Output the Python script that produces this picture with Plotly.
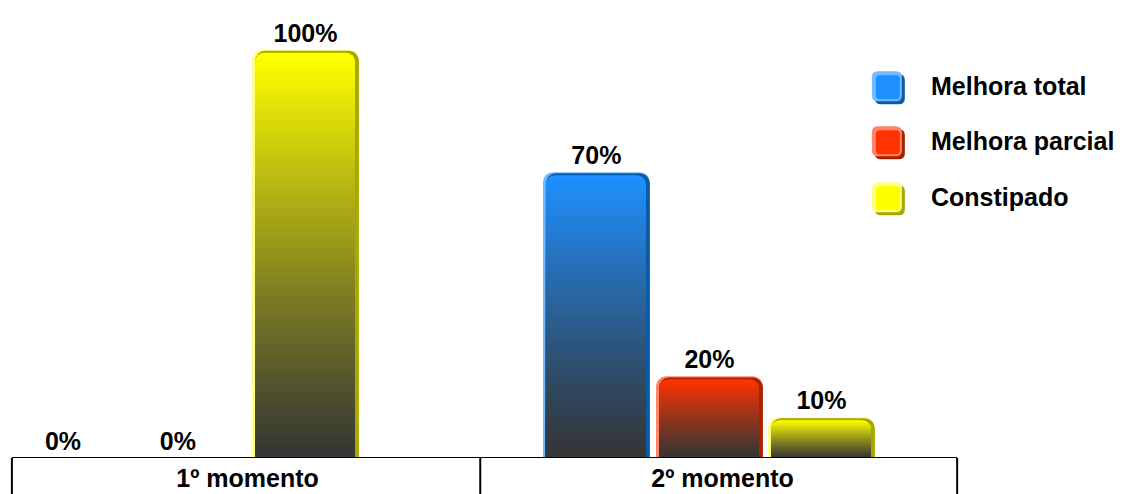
import plotly.graph_objects as go

# ---- data ----
categories = ["1º momento", "2º momento"]
series_names = ["Melhora total", "Melhora parcial", "Constipado"]
melhora_total = [0, 70]
melhora_parcial = [0, 20]
constipado = [100, 10]
series_values = [melhora_total, melhora_parcial, constipado]

# ---- styles ----
top_colors = ["#1E90FF", "#FF3300", "#FFFF00"]
light_colors = ["#72BAFF", "#FF8468", "#FFFF88"]
shadow_colors = ["#0B5CA8", "#A82200", "#A8A800"]
bottom_color = "#353535"
# left-edge offsets of each bar relative to its category centre (category units)
offsets = [[-0.501, -0.378], [-0.259, -0.140], [0.0095, 0.0958]]
BAR_W = 0.225
CAT_PX = 475.0
Y_MAX = 108
PLOT_H = 441.0
PX_PER_UNIT = PLOT_H / Y_MAX
N_STEPS = 60
FONT = "Liberation Sans"
FS = 25


def hex2rgb(h):
    h = h.lstrip("#")
    return tuple(int(h[i:i + 2], 16) for i in (0, 2, 4))


def mix(c1, c2, t):
    a, b = hex2rgb(c1), hex2rgb(c2)
    return "rgb(%d,%d,%d)" % tuple(round(a[i] + (b[i] - a[i]) * t) for i in range(3))


fig = go.Figure()
px = 1.0 / CAT_PX
d_top = 3.0 / PX_PER_UNIT

for si, (name, vals) in enumerate(zip(series_names, series_values)):
    offs = offsets[si]
    # highlight (light edge) bar carrying the value label
    fig.add_trace(go.Bar(
        x=categories, y=vals, name=name, showlegend=False,
        offset=offs, width=[BAR_W] * len(vals),
        marker=dict(color=light_colors[si], cornerradius=10, line=dict(width=0)),
        text=[f"{v}%" for v in vals], textposition="outside",
        textfont=dict(family=FONT, size=FS, color="black", weight="bold"),
        cliponaxis=False, hoverinfo="skip",
    ))
    # shadow (dark right edge)
    fig.add_trace(go.Bar(
        x=categories, y=[max(v - d_top * 0.4, 0) for v in vals], showlegend=False,
        offset=[o + 3 * px for o in offs], width=[BAR_W - 3 * px] * len(vals),
        marker=dict(color=shadow_colors[si], cornerradius=10, line=dict(width=0)),
        hoverinfo="skip",
    ))
    # gradient body
    for k in range(N_STEPS):
        f = 1 - k / N_STEPS
        hs = [max(v - d_top, 0) * f for v in vals]
        col = mix(bottom_color, top_colors[si], f ** 1.15)
        fig.add_trace(go.Bar(
            x=categories, y=hs, showlegend=False,
            offset=[o + 3 * px for o in offs], width=[BAR_W - 7 * px] * len(vals),
            marker=dict(color=col, cornerradius=9, line=dict(width=0)),
            hoverinfo="skip",
        ))

shapes = [
    dict(type="line", xref="paper", yref="y", x0=0.002, x1=0.997, y0=0, y1=0,
         line=dict(color="black", width=2), layer="above"),
]
for xv in (0.002, 0.495, 0.997):
    shapes.append(dict(type="line", xref="paper", yref="paper", x0=xv, x1=xv, y0=0, y1=-0.1,
                       line=dict(color="black", width=2), layer="above"))

# custom legend
legend_y = [0.843, 0.718, 0.591]
rr = "M -9,-15 L 9,-15 Q 15,-15 15,-9 L 15,9 Q 15,15 9,15 L -9,15 Q -15,15 -15,9 L -15,-9 Q -15,-15 -9,-15 Z"
rr_shadow = "M -6,-18 L 12,-18 Q 18,-18 18,-12 L 18,6 Q 18,12 12,12 L -6,12 Q -12,12 -12,6 L -12,-12 Q -12,-18 -6,-18 Z"
inner = "M -7,-13 L 9,-13 Q 13,-13 13,-9 L 13,7 Q 13,11 9,11 L -7,11 Q -11,11 -11,7 L -11,-9 Q -11,-13 -7,-13 Z"
annotations = []
for si, name in enumerate(series_names):
    for path, col in ((rr_shadow, shadow_colors[si]), (rr, light_colors[si]), (inner, top_colors[si])):
        shapes.append(dict(type="path", xref="paper", yref="paper",
                           xsizemode="pixel", ysizemode="pixel",
                           xanchor=0.923, yanchor=legend_y[si], path=path,
                           fillcolor=col, line=dict(width=0)))
    annotations.append(dict(x=0.967, y=legend_y[si], xref="paper", yref="paper",
                            text=name, showarrow=False, xanchor="left", yanchor="middle",
                            font=dict(family=FONT, size=FS, color="black", weight="bold")))

fig.update_layout(
    width=1117, height=486,
    margin=dict(l=2, r=165, t=9, b=36),
    paper_bgcolor="white", plot_bgcolor="white",
    barmode="overlay",
    showlegend=False,
    xaxis=dict(type="category", range=[-0.5, 1.5], showgrid=False, zeroline=False,
               showline=False, ticks="", ticklabelstandoff=3, automargin=False,
               tickfont=dict(family=FONT, size=FS, color="black", weight="bold")),
    yaxis=dict(range=[0, Y_MAX], visible=False, automargin=False),
    shapes=shapes, annotations=annotations,
)

fig.write_html("out.html")
